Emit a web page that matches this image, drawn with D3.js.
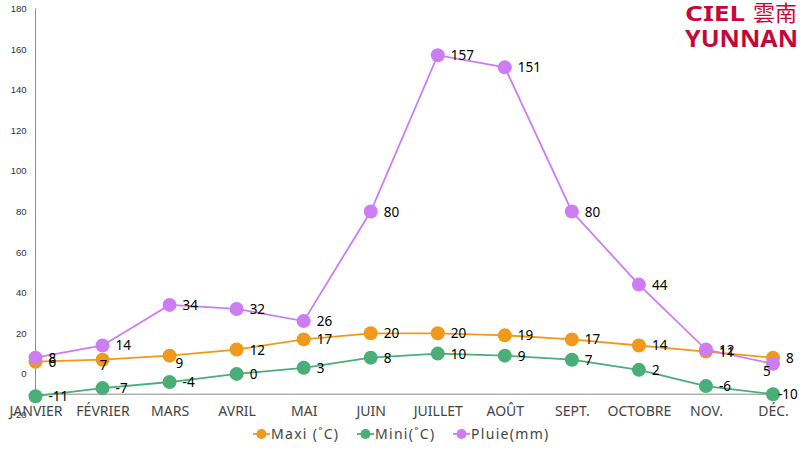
<!DOCTYPE html>
<html>
<head>
<meta charset="utf-8">
<script src="https://cdn.jsdelivr.net/npm/d3@7"></script>
<style>
  html, body { margin: 0; padding: 0; background: #fff; }
  svg { display: block; }
</style>
</head>
<body>
<svg></svg>
<script>
const months = ["JANVIER", "FÉVRIER", "MARS", "AVRIL", "MAI", "JUIN", "JUILLET", "AOÛT", "SEPT.", "OCTOBRE", "NOV.", "DÉC."];
const maxi = [6, 7, 9, 12, 17, 20, 20, 19, 17, 14, 11, 8];
const mini = [-11, -7, -4, 0, 3, 8, 10, 9, 7, 2, -6, -10];
const pluie = [8, 14, 34, 32, 26, 80, 157, 151, 80, 44, 12, 5];
const yTicks = [-20, 0, 20, 40, 60, 80, 100, 120, 140, 160, 180];

const seriesNames = ["Maxi (˚C)", "Mini(˚C)", "Pluie(mm)"];
const seriesValues = [maxi, mini, pluie];
const seriesColors = ["#ef9a1c", "#4aae78", "#cc7df2"];

const width = 800;
const height = 450;
const uiFont = "'Noto Sans', sans-serif";

const svg = d3.select("svg").attr("width", width).attr("height", height);

const x = d3.scalePoint().domain(months).range([35.5, 773]);
const y = d3.scaleLinear().domain([-20, 180]).range([414.5, 8.5]);

// y axis, ticks are labels only
const yAxis = svg.append("g")
  .attr("transform", "translate(35.5,0)")
  .call(d3.axisLeft(y).tickValues(yTicks).tickSize(0).tickPadding(9));
yAxis.select(".domain").remove();
yAxis.selectAll("text")
  .attr("font-family", "'Liberation Sans', sans-serif")
  .attr("font-size", 9.5)
  .attr("fill", "#333");

svg.append("line")
  .attr("x1", 35.5).attr("x2", 35.5)
  .attr("y1", y(180)).attr("y2", y(-10))
  .attr("stroke", "#8c8c8c").attr("stroke-width", 1);

// x axis crosses at -10
const xAxis = svg.append("g")
  .attr("transform", `translate(0,${y(-10)})`)
  .call(d3.axisBottom(x).tickSize(0).tickPadding(12));
xAxis.select(".domain")
  .attr("d", `M35.5,0H${x("DÉC.")}`)
  .attr("stroke", "#8c8c8c");
xAxis.selectAll("text")
  .attr("font-family", uiFont)
  .attr("font-size", 14)
  .attr("fill", "#444");

const line = d3.line()
  .x((d, i) => x(months[i]))
  .y(d => y(d));

// one group per series, lines and dots
seriesValues.forEach((values, s) => {
  const g = svg.append("g");
  g.append("path")
    .attr("d", line(values))
    .attr("fill", "none")
    .attr("stroke", seriesColors[s])
    .attr("stroke-width", 1.8);
  g.selectAll("circle")
    .data(values)
    .enter()
    .append("circle")
    .attr("cx", (d, i) => x(months[i]))
    .attr("cy", d => y(d))
    .attr("r", 7)
    .attr("fill", seriesColors[s]);
});

// labels sit right of the dot, these few were moved by hand in the original
const labelNudge = {
  "0-1": [-3, 10],
  "0-2": [6, 12],
  "1-11": [5, 5],
  "2-11": [-10, 12]
};

seriesValues.forEach((values, s) => {
  svg.append("g")
    .selectAll("text")
    .data(values)
    .enter()
    .append("text")
    .attr("x", (d, i) => x(months[i]) + (labelNudge[`${s}-${i}`] || [13, 5])[0])
    .attr("y", (d, i) => y(d) + (labelNudge[`${s}-${i}`] || [13, 5])[1])
    .attr("font-family", uiFont)
    .attr("font-size", 13.5)
    .attr("fill", "#000")
    .text(d => d);
});

// legend
const legendX = [253, 357, 453];
const legend = svg.append("g");
seriesNames.forEach((name, s) => {
  const g = legend.append("g").attr("transform", `translate(${legendX[s]},434)`);
  g.append("line")
    .attr("x1", 0).attr("x2", 17)
    .attr("stroke", seriesColors[s]).attr("stroke-width", 1.8);
  g.append("circle")
    .attr("cx", 8.5).attr("r", 5).attr("fill", seriesColors[s]);
  g.append("text")
    .attr("x", 18).attr("y", 5)
    .attr("font-family", uiFont)
    .attr("font-size", 14)
    .attr("letter-spacing", 1.3)
    .attr("fill", "#444")
    .text(name);
});

// logo
const logo = svg.append("g")
  .attr("fill", "#c4093a")
  .attr("font-family", "'Noto Sans', sans-serif")
  .attr("font-weight", "bold");
logo.append("text").attr("x", 685).attr("y", 21).attr("font-size", 22)
  .attr("textLength", 60).attr("lengthAdjust", "spacingAndGlyphs").text("CIEL");
logo.append("text").attr("x", 753).attr("y", 21).attr("font-size", 22)
  .attr("font-family", "'Noto Sans CJK TC', sans-serif").attr("font-weight", "normal").text("雲南");
logo.append("text").attr("x", 685).attr("y", 47).attr("font-size", 24)
  .attr("textLength", 113).attr("lengthAdjust", "spacingAndGlyphs").text("YUNNAN");
</script>
</body>
</html>
